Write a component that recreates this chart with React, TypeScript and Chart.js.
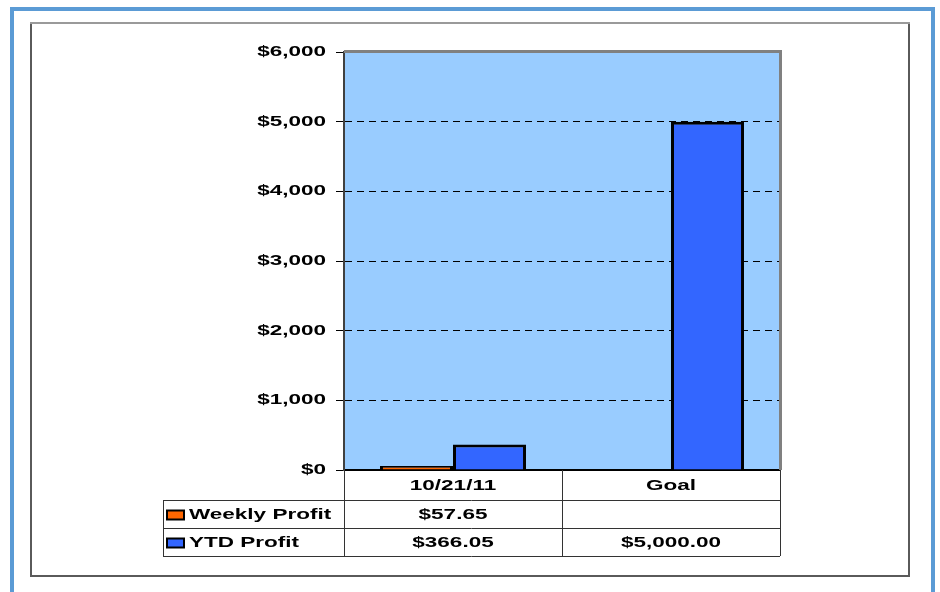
import React, { useEffect, useRef } from "react";
import { Chart, registerables } from "chart.js";

Chart.register(...registerables);

const categories = ["10/21/11", "Goal"];
const weeklyProfit: (number | null)[] = [57.65, null];
const ytdProfit: (number | null)[] = [366.05, 5000];
const seriesNames = ["Weekly Profit", "YTD Profit"];
const seriesColors = ["#FF6600", "#3366FF"];
const yMin = 0;
const yMax = 6000;
const yStep = 1000;

const FONT_FAMILY = "'Liberation Sans', Arial, sans-serif";
const FONT_SIZE = 15;
const TEXT_FONT = `bold ${FONT_SIZE}px ${FONT_FAMILY}`;
const STRETCH_X = 1.5;

const fmtMoney = (v: number) =>
  "$" + v.toLocaleString("en-US", { minimumFractionDigits: 2, maximumFractionDigits: 2 });

// Draw every text horizontally widened, as in the reference picture.
function widenText(ctx: CanvasRenderingContext2D) {
  const baseFill = CanvasRenderingContext2D.prototype.fillText;
  (ctx as any).fillText = function (text: string, x: number, y: number) {
    this.save();
    this.translate(x, y);
    this.scale(STRETCH_X, 1);
    baseFill.call(this, text, 0, 0);
    this.restore();
  };
}

const framePlugin = {
  id: "frameAndTable",
  beforeDraw(chart: any) {
    const { ctx, chartArea } = chart;
    ctx.save();
    ctx.fillStyle = "#ffffff";
    ctx.fillRect(0, 0, chart.width, chart.height);
    // outer blue frame
    ctx.strokeStyle = "#5B9BD5";
    ctx.lineWidth = 4;
    ctx.strokeRect(12, 9, 921, 620);
    // inner gray frame
    ctx.lineWidth = 2;
    ctx.strokeStyle = "#5a5a5a";
    ctx.strokeRect(31, 23, 878, 553);
    ctx.strokeStyle = "#9a9a9a";
    ctx.beginPath();
    ctx.moveTo(30, 23);
    ctx.lineTo(910, 23);
    ctx.stroke();
    // plot background
    ctx.fillStyle = "#99CCFF";
    ctx.fillRect(chartArea.left, chartArea.top, chartArea.right - chartArea.left, chartArea.bottom - chartArea.top);
    ctx.restore();
  },
  afterDraw(chart: any) {
    const { ctx, chartArea, scales } = chart;
    const x = scales.x;
    ctx.save();
    // top and right border of plot
    ctx.strokeStyle = "#808080";
    ctx.lineWidth = 3;
    ctx.beginPath();
    ctx.moveTo(chartArea.left, chartArea.top - 0.5);
    ctx.lineTo(chartArea.right + 0.5, chartArea.top - 0.5);
    ctx.lineTo(chartArea.right + 0.5, chartArea.bottom);
    ctx.stroke();

    // data table
    const headerH = 30;
    const rowH = 28;
    const top = chartArea.bottom;
    const r1 = top + headerH;
    const r2 = r1 + rowH;
    const r3 = r2 + rowH;
    const labelLeft = 163;
    const left = x.left;
    const right = x.right;
    const mid = (x.getPixelForTick(0) + x.getPixelForTick(1)) / 2;

    ctx.strokeStyle = "#333333";
    ctx.lineWidth = 1;
    ctx.beginPath();
    [r1, r2, r3].forEach((yy) => {
      ctx.moveTo(labelLeft, Math.round(yy) + 0.5);
      ctx.lineTo(right, Math.round(yy) + 0.5);
    });
    ctx.moveTo(labelLeft + 0.5, r1);
    ctx.lineTo(labelLeft + 0.5, r3);
    [left, mid, right].forEach((xx) => {
      ctx.moveTo(Math.round(xx) + 0.5, top);
      ctx.lineTo(Math.round(xx) + 0.5, r3);
    });
    ctx.stroke();

    const rows = [weeklyProfit, ytdProfit];
    const rowTops = [r1, r2];
    ctx.font = TEXT_FONT;
    ctx.textBaseline = "middle";
    rows.forEach((vals, ri) => {
      const cy = rowTops[ri] + rowH / 2 + 1;
      // legend box
      ctx.fillStyle = seriesColors[ri];
      ctx.fillRect(167, cy - 4.5, 17, 9);
      ctx.strokeStyle = "#000";
      ctx.lineWidth = 2;
      ctx.strokeRect(167, cy - 4.5, 17, 9);
      ctx.fillStyle = "#000";
      ctx.textAlign = "left";
      ctx.fillText(seriesNames[ri], 189, cy);
      ctx.textAlign = "center";
      vals.forEach((v, ci) => {
        if (v === null || v === undefined) return;
        const cx = ci === 0 ? (left + mid) / 2 : (mid + right) / 2;
        ctx.fillText(fmtMoney(v), cx, cy);
      });
    });
    ctx.restore();
  },
};

export default function App() {
  const ref = useRef<HTMLCanvasElement | null>(null);
  useEffect(() => {
    document.body.style.margin = "0";
    const canvas = ref.current!;
    const ctx2d = canvas.getContext("2d")!;
    widenText(ctx2d);
    const chart = new Chart(ctx2d, {
      type: "bar",
      data: {
        labels: categories,
        datasets: [
          {
            label: seriesNames[0],
            data: weeklyProfit,
            backgroundColor: seriesColors[0],
            borderColor: "#000000",
            borderWidth: 3,
            barPercentage: 1,
            categoryPercentage: 0.67,
          },
          {
            label: seriesNames[1],
            data: ytdProfit,
            backgroundColor: seriesColors[1],
            borderColor: "#000000",
            borderWidth: 3,
            barPercentage: 1,
            categoryPercentage: 0.67,
          },
        ],
      },
      options: {
        responsive: false,
        animation: false,
        devicePixelRatio: 1,
        layout: { padding: { top: 52, right: 160, bottom: 92, left: 0 } },
        plugins: {
          legend: { display: false },
          tooltip: { enabled: false },
          title: { display: false },
        },
        scales: {
          x: {
            position: "bottom",
            afterFit: (s: any) => {
              s.height = 30;
            },
            grid: { display: false, drawTicks: false },
            border: { display: true, color: "#000000", width: 2 },
            ticks: {
              color: "#000000",
              font: { family: FONT_FAMILY, size: FONT_SIZE, weight: "bold" },
              padding: 7,
              maxRotation: 0,
            },
          },
          y: {
            min: yMin,
            max: yMax,
            afterFit: (s: any) => {
              s.width = 344;
            },
            ticks: {
              stepSize: yStep,
              color: "#000000",
              font: { family: FONT_FAMILY, size: FONT_SIZE, weight: "bold" },
              padding: 10,
              callback: (v: any) => "$" + Number(v).toLocaleString("en-US"),
            },
            grid: {
              color: (c: any) =>
                c.tick && c.tick.value > yMin && c.tick.value < yMax ? "#000000" : "rgba(0,0,0,0)",
              lineWidth: 1,
              tickColor: "#000000",
              tickLength: 8,
              tickWidth: 1,
              tickBorderDash: [],
            },
            border: { display: true, color: "#404040", width: 2, dash: [7, 5] },
          },
        },
      },
      plugins: [framePlugin],
    });
    return () => chart.destroy();
  }, []);
  return (
    <div style={{ position: "absolute", left: 0, top: 0, width: 940, height: 592 }}>
      <canvas ref={ref} width={940} height={592} style={{ display: "block" }} />
    </div>
  );
}
